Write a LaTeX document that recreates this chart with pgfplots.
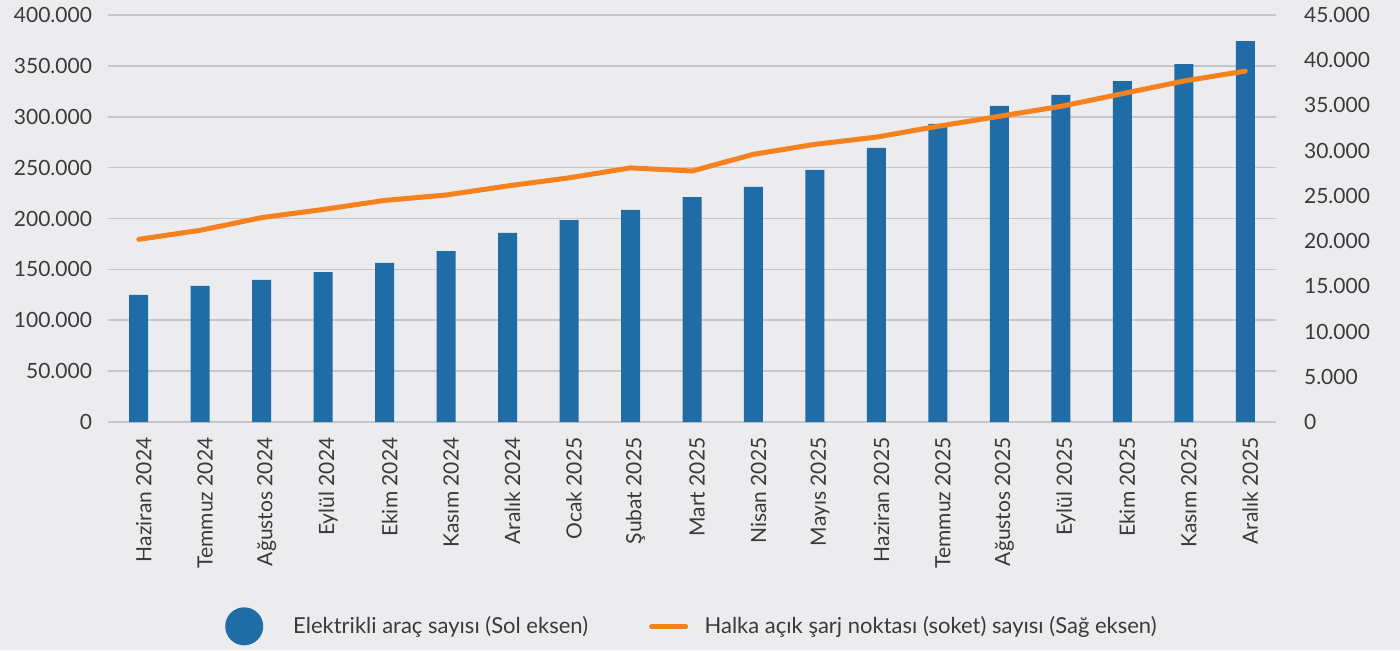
\documentclass[border=0pt]{standalone}
\usepackage{fontspec}
\setmainfont{Lato}
\usepackage{pgfplots}
\pgfplotsset{compat=1.18}
\definecolor{bg}{HTML}{ECECEE}
\definecolor{barblue}{HTML}{1F6CA6}
\definecolor{lineorange}{HTML}{F5821F}
\definecolor{gridc}{HTML}{C6C6C8}
\definecolor{txt}{HTML}{3A3A3A}
\begin{document}
\begin{tikzpicture}
\path[use as bounding box, fill=bg] (-54pt,-114pt) rectangle (646pt,211pt);
\begin{axis}[
  at={(0pt,0pt)}, anchor=south west,
  scale only axis, width=584pt, height=203.5pt,
  xmin=-0.5, xmax=18.5, ymin=0, ymax=400000,
  ytick={0,50000,...,400000},
  xtick={0,...,18},
  xticklabels={Haziran 2024,Temmuz 2024,Ağustos 2024,Eylül 2024,Ekim 2024,Kasım 2024,Aralık 2024,Ocak 2025,Şubat 2025,Mart 2025,Nisan 2025,Mayıs 2025,Haziran 2025,Temmuz 2025,Ağustos 2025,Eylül 2025,Ekim 2025,Kasım 2025,Aralık 2025},
  xticklabel style={rotate=90, anchor=east, xshift=0pt, yshift=-2.5pt},
  ticklabel style={font=\fontsize{10.5}{12}\selectfont, text=txt},
  yticklabel style={xshift=-4.5pt, /pgf/number format/fixed, /pgf/number format/1000 sep={.}, /pgf/number format/assume math mode=true},
  scaled y ticks=false,
  ymajorgrids, grid style={draw=gridc, line width=0.8pt},
  axis line style={draw=none}, major tick style={draw=none},
  ybar, bar width=9.5pt,
]
\addplot[fill=barblue, draw=none] coordinates {
(0,125000)(1,133700)(2,139600)(3,147400)(4,156300)(5,168000)(6,185800)(7,198500)(8,208400)(9,221000)(10,231000)(11,247700)(12,269300)(13,292900)(14,310600)(15,321400)(16,335100)(17,351800)(18,374400)};
\end{axis}
\begin{axis}[
  at={(0pt,0pt)}, anchor=south west,
  scale only axis, width=584pt, height=203.5pt,
  xmin=-0.5, xmax=18.5, ymin=0, ymax=45000,
  ytick={0,5000,...,45000},
  axis y line*=right, hide x axis,
  axis line style={draw=none}, major tick style={draw=none},
  ticklabel style={font=\fontsize{10.5}{12}\selectfont, text=txt},
  yticklabel style={anchor=west, xshift=10.5pt, /pgf/number format/fixed, /pgf/number format/1000 sep={.}, /pgf/number format/assume math mode=true},
  scaled y ticks=false,
  legend columns=2,
  legend style={at={(0.100,-0.502)}, anchor=west, draw=none, fill=none,
     inner sep=0pt, font=\fontsize{11}{13}\selectfont, text=txt,
     /tikz/every even column/.append style={column sep=28.5pt}},
  legend cell align=left,
]
\addlegendimage{legend image code/.code={\fill[barblue,draw=none] (9.5pt,0pt) circle (9.5pt); \path[draw=none,fill=none] (0pt,0pt) -- (32pt,0pt);}}
\addlegendentry{Elektrikli araç sayısı (Sol eksen)}
\addplot[draw=lineorange, line width=2.5pt, line cap=round, line join=round,
  legend image code/.code={\draw[lineorange, line width=2.5pt] (0pt,0pt) -- (17pt,0pt); \path[draw=none] (0pt,0pt) -- (24.5pt,0pt);}] coordinates {
(0,20200)(1,21200)(2,22600)(3,23500)(4,24500)(5,25100)(6,26100)(7,27000)(8,28100)(9,27750)(10,29600)(11,30700)(12,31500)(13,32700)(14,33800)(15,34900)(16,36300)(17,37700)(18,38800)};
\addlegendentry{Halka açık şarj noktası (soket) sayısı (Sağ eksen)}
\end{axis}
\end{tikzpicture}
\end{document}
